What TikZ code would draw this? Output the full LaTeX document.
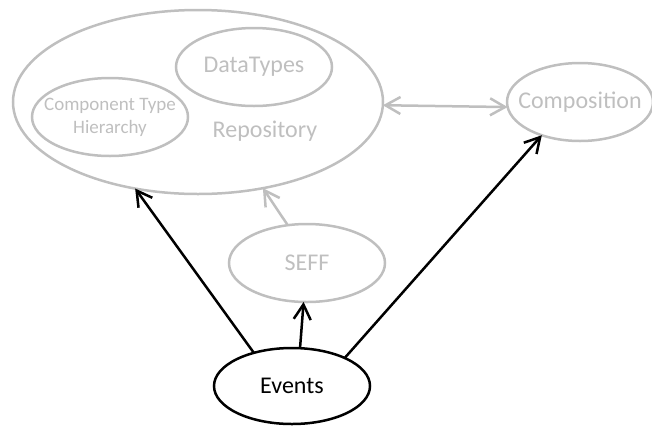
\documentclass[tikz,border=0pt]{standalone}
\usepackage{fontspec}
\setmainfont{Carlito}
\usetikzlibrary{shapes.geometric,arrows.meta}
\definecolor{faded}{RGB}{191,191,191}
\begin{document}
\begin{tikzpicture}[x=1pt,y=-1pt,
  ell/.style={ellipse, draw, line width=2.5pt, inner sep=0pt, outer sep=0pt},
  dim/.style={draw=faded, text=faded},
  lbl/.style={font=\fontsize{24}{29}\selectfont},
  small/.style={font=\fontsize{19}{23}\selectfont, align=center},
  conn/.style={line width=2.5pt, -{Straight Barb[length=15pt,width=17pt]}},
  both/.style={line width=2.5pt, {Straight Barb[length=15pt,width=17pt]}-{Straight Barb[length=15pt,width=17pt]}}]
\useasboundingbox (0,0) rectangle (652,426);

% repository with its two nested parts
\node[ell, dim, minimum width=370pt, minimum height=184pt] (repo) at (198,102) {};
\node[lbl, text=faded] (repotext) at (265,131) {Repository};
\node[ell, dim, minimum width=156pt, minimum height=78pt,
      label={[lbl, text=faded]center:DataTypes}] (types) at (254,67) {};
\node[ell, dim, minimum width=156pt, minimum height=78pt,
      label={[small, text=faded]center:Component Type\\Hierarchy}] (cth) at (110,117) {};

% other model parts
\node[ell, dim, minimum width=146pt, minimum height=78pt,
      label={[lbl, text=faded]center:Composition}] (comp) at (580,102) {};
\node[ell, dim, minimum width=156pt, minimum height=78pt,
      label={[lbl, text=faded]center:SEFF}] (seff) at (307,263) {};

% events
\node[ell, draw=black, minimum width=156pt, minimum height=76pt,
      label={[lbl]center:Events}] (events) at (292,386) {};

% gray relations
\draw[both, faded] (repo.-1.5) -- (comp.184.5);
\draw[conn, faded] (seff.117.7) -- (repo.307);

% event relations
\draw[conn] (events.139.6) -- (repo.234);
\draw[conn] (events.78.4) -- (seff.265.5);
\draw[conn] (events.28.6) -- (comp.221.7);
\end{tikzpicture}
\end{document}
